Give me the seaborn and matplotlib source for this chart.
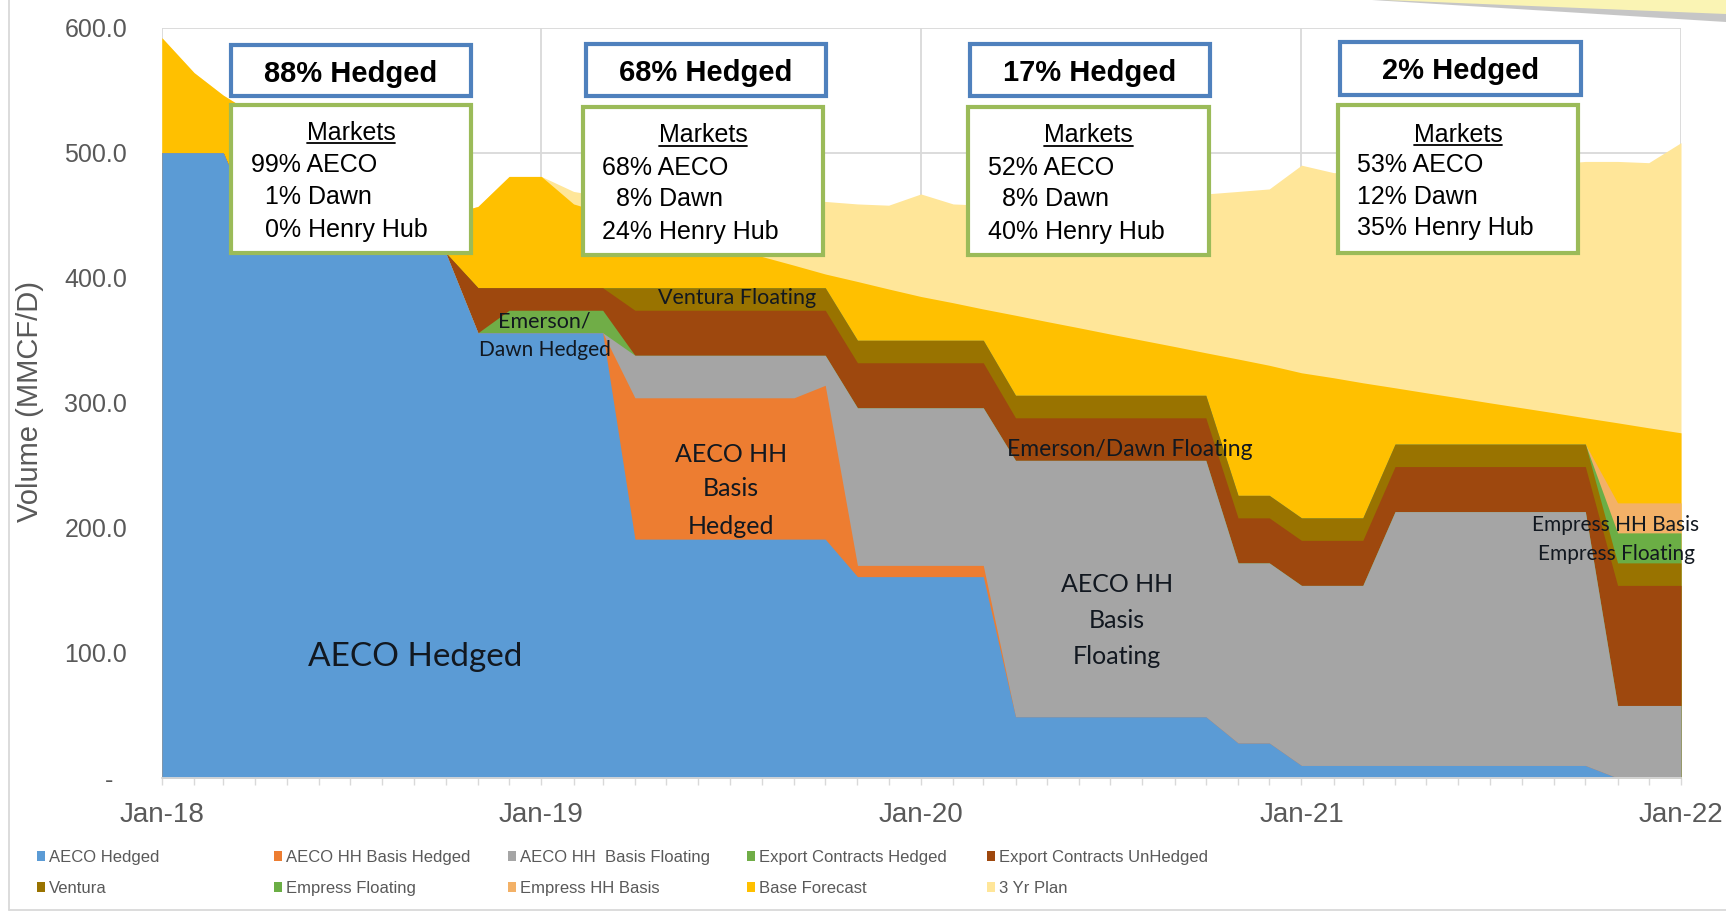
import numpy as np
import pandas as pd
import matplotlib
matplotlib.use("Agg")
import matplotlib.pyplot as plt
import matplotlib.dates as mdates
from matplotlib.patches import Rectangle, Polygon
from matplotlib.lines import Line2D
import seaborn as sns

# ---------------- data: volumes in MMCF/D, monthly Jan-2018 .. Jan-2022 ----------------
months = pd.date_range("2018-01-01", "2022-01-01", freq="MS")

aeco_hedged = [500, 500, 500, 440, 440, 440, 440, 440, 430, 420,
               356, 356, 356, 356, 356,
               191, 191, 191, 191, 191, 191, 191,
               161, 161, 161, 161, 161,
               49, 49, 49, 49, 49, 49, 49,
               28, 28,
               10, 10, 10, 10, 10, 10, 10, 10, 10, 10,
               0, 0, 0]
aeco_hh_basis_hedged = [0] * 15 + [113] * 6 + [123] + [9] * 5 + [0] * 22
aeco_hh_basis_floating = ([0] * 15 + [34] * 6 + [24] + [126] * 5 + [205] * 7
                          + [144] * 5 + [203] * 7 + [58] * 3)
export_hedged = [0] * 11 + [18] * 4 + [0] * 34
export_unhedged = [0] * 10 + [36] + [18] * 4 + [36] * 12 + [34] * 7 + [36] * 12 + [96] * 3
ventura = [0] * 15 + [18] * 34
empress_floating = [0] * 46 + [24] * 3
empress_hh_basis = [0] * 46 + [24] * 3
base_forecast = [92, 64, 46, 90, 75, 60, 47, 35, 33, 30,
                 65, 89, 89, 67, 60, 53, 46, 39, 32, 25, 18, 11,
                 47, 41, 35, 30, 25,
                 64, 59, 54, 49, 44, 39, 34,
                 109, 104, 116, 112, 108,
                 45, 41, 37, 33, 29, 25, 21,
                 64, 60, 56]
three_yr_plan = ([0] * 13 + [10, 13, 18, 25, 32, 38, 45, 51, 58, 62, 67, 82, 79, 83,
                             91, 97, 103, 108, 114, 120, 127, 134, 141, 166, 164, 169,
                             174, 179, 184, 189, 194, 199, 205, 209, 212, 232])

series_names = ["AECO Hedged", "AECO HH Basis Hedged", "AECO HH  Basis Floating",
                "Export Contracts Hedged", "Export Contracts UnHedged",
                "Ventura", "Empress Floating", "Empress HH Basis",
                "Base Forecast", "3 Yr Plan"]
series_values = [aeco_hedged, aeco_hh_basis_hedged, aeco_hh_basis_floating,
                 export_hedged, export_unhedged, ventura, empress_floating,
                 empress_hh_basis, base_forecast, three_yr_plan]

y_ticks = [0, 100, 200, 300, 400, 500, 600]
y_tick_labels = ["-  ", "100.0", "200.0", "300.0", "400.0", "500.0", "600.0"]

hedge_headers = ["88% Hedged", "68% Hedged", "17% Hedged", "2% Hedged"]
market_lines = [["99% AECO", "1% Dawn", "0% Henry Hub"],
                ["68% AECO", "8% Dawn", "24% Henry Hub"],
                ["52% AECO", "8% Dawn", "40% Henry Hub"],
                ["53% AECO", "12% Dawn", "35% Henry Hub"]]

# ---------------- styling ----------------
sns.set_theme(style="white")
plt.rcParams["font.family"] = ["Liberation Sans", "DejaVu Sans"]

colors = sns.color_palette(["#5B9BD5", "#ED7D31", "#A5A5A5", "#70AD47", "#9E480E",
                            "#997300", "#6BAE45", "#F3B167", "#FFC000", "#FFE699"])

W, H = 1726, 915
fig = plt.figure(figsize=(W / 100, H / 100), dpi=100)
fig.patch.set_facecolor("white")


def fxp(px):
    return px / W


def fyp(py):
    return 1 - py / H


X0, X1, Y0, Y1 = 161.8, 1681.0, 778.0, 27.6
ax = fig.add_axes([fxp(X0), fyp(Y0), (X1 - X0) / W, (Y0 - Y1) / H])
ax.set_facecolor("white")

data = pd.DataFrame(dict(zip(series_names, series_values)), index=months)
cum = data.cumsum(axis=1)
# paint from the top of the stack down so neighbouring bands never leave seams
for name, col in reversed(list(zip(series_names, colors))):
    ax.fill_between(data.index, 0, cum[name], color=col, linewidth=0, zorder=2)

ax.set_xlim(months[0], months[-1])
ax.set_ylim(0, 600)
ax.set_yticks(y_ticks)
ax.set_yticklabels(y_tick_labels)
ax.xaxis.set_major_locator(mdates.YearLocator())
ax.xaxis.set_major_formatter(mdates.DateFormatter("%b-%y"))
ax.xaxis.set_minor_locator(mdates.MonthLocator())
ax.grid(True, axis="y", color="#D9D9D9", lw=1.3)
ax.grid(True, axis="x", which="major", color="#D9D9D9", lw=1.3)
ax.set_axisbelow(True)
for s in ["top", "right", "left"]:
    ax.spines[s].set_visible(False)
ax.spines["bottom"].set_color("#D9D9D9")
ax.spines["bottom"].set_linewidth(1.3)
ax.tick_params(axis="y", length=0, pad=25, labelsize=18, labelcolor="#595959")
ax.tick_params(axis="x", which="both", direction="out", length=5, width=1,
               color="#D9D9D9", bottom=True)
ax.tick_params(axis="x", which="major", labelsize=20, labelcolor="#595959", pad=12)

fig.text(fxp(30), fyp(402), "Volume (MMCF/D)", rotation=90, ha="center", va="center",
         fontsize=21, color="#595959")

# ---------------- area labels ----------------
lab_font = ["Lato", "DejaVu Sans"]
lab_color = "#121820"


def area_label(px, py, txt, size):
    ax.text((px - X0) / (X1 - X0), (Y0 - py) / (Y0 - Y1), txt, transform=ax.transAxes,
            ha="center", va="center", fontsize=size, color=lab_color, family=lab_font,
            zorder=5)


area_label(415, 657, "AECO Hedged", 24)
area_label(544, 322, "Emerson/", 15.5)
area_label(545, 350, "Dawn Hedged", 15)
area_label(737, 298, "Ventura Floating", 15.5)
for yy, t in zip([455, 489, 526], ["AECO HH", "Basis", "Hedged"]):
    area_label(731, yy, t, 18)
for yy, t in zip([585, 621, 657], ["AECO HH", "Basis", "Floating"]):
    area_label(1117, yy, t, 18)
area_label(1130, 450, "Emerson/Dawn Floating", 16.5)
area_label(1616, 525, "Empress HH Basis", 15)
area_label(1616, 554, "Empress Floating", 15)

# ---------------- hedge summary boxes ----------------
header_boxes = [(229, 43, 473, 98), (584, 42, 828, 98), (968, 42, 1212, 98), (1338, 40, 1583, 97)]
market_boxes = [(229, 103, 473, 255), (581, 105, 825, 257), (966, 105, 1211, 257), (1336, 103, 1580, 255)]
header_base = [82, 81, 81, 79]
market_base = [(140, 172, 204, 236.5), (142.5, 175, 206.5, 239), (142.5, 175, 206.5, 239),
               (141.5, 172, 203.5, 235.5)]
text_left = [251, 602, 988, 1357]
digit_w = 14


def add_box(b, edge):
    x0, y0, x1, y1 = b
    fig.add_artist(Rectangle((fxp(x0 + 2), fyp(y1 - 2)), (x1 - x0 - 4) / W, (y1 - y0 - 4) / H,
                             transform=fig.transFigure, facecolor="white", edgecolor=edge,
                             linewidth=3.0, zorder=10))


market_titles = []
for i in range(4):
    add_box(header_boxes[i], "#4F81BD")
    add_box(market_boxes[i], "#9BBB59")
    hx = (header_boxes[i][0] + header_boxes[i][2]) / 2
    fig.text(fxp(hx), fyp(header_base[i]), hedge_headers[i], ha="center", va="baseline",
             fontsize=21, fontweight="bold", color="black", zorder=11)
    mx = (market_boxes[i][0] + market_boxes[i][2]) / 2
    t = fig.text(fxp(mx), fyp(market_base[i][0]), "Markets", ha="center", va="baseline",
                 fontsize=18, color="black", zorder=11)
    market_titles.append((t, market_base[i][0]))
    for k, line in enumerate(market_lines[i]):
        pct = line.split("%")[0]
        shift = (2 - len(pct)) * digit_w
        fig.text(fxp(text_left[i] + shift), fyp(market_base[i][k + 1]), line, ha="left",
                 va="baseline", fontsize=18, color="black", zorder=11)

# underline the "Markets" headings
fig.canvas.draw()
renderer = fig.canvas.get_renderer()
for t, base in market_titles:
    bb = t.get_window_extent(renderer)
    yy = fyp(base + 3)
    fig.add_artist(Line2D([bb.x0 / W, bb.x1 / W], [yy, yy], color="black", lw=1.3,
                          transform=fig.transFigure, zorder=12))

# ---------------- legend (five columns of two entries) ----------------
handles = [Rectangle((0, 0), 1, 1, facecolor=c, edgecolor="none") for c in colors]
col_x = [37, 274, 508, 747, 987]
for j in range(5):
    fig.legend([handles[j], handles[j + 5]], [series_names[j], series_names[j + 5]],
               loc="upper left", bbox_to_anchor=(fxp(col_x[j]), fyp(850)),
               bbox_transform=fig.transFigure, frameon=False, fontsize=12,
               handlelength=0.5, handleheight=0.5, handletextpad=0.2,
               labelspacing=0.95, borderpad=0, borderaxespad=0, labelcolor="#595959")

# ---------------- chart frame and note corner ----------------
fig.add_artist(Line2D([fxp(9), fxp(9)], [fyp(0), fyp(910)], color="#D9D9D9", lw=1.3,
                      transform=fig.transFigure))
fig.add_artist(Line2D([fxp(9), fxp(W)], [fyp(910), fyp(910)], color="#D9D9D9", lw=1.3,
                      transform=fig.transFigure))
fig.add_artist(Polygon([(fxp(1372), fyp(0)), (fxp(W), fyp(0)), (fxp(W), fyp(22))],
                       closed=True, transform=fig.transFigure, facecolor="#8F8F8F",
                       edgecolor="none", alpha=0.5))
fig.add_artist(Polygon([(fxp(1385), fyp(0)), (fxp(W), fyp(0)), (fxp(W), fyp(14))],
                       closed=True, transform=fig.transFigure, facecolor="#FAF4B4",
                       edgecolor="none"))

fig.savefig("out.png", dpi=100, facecolor="white")
